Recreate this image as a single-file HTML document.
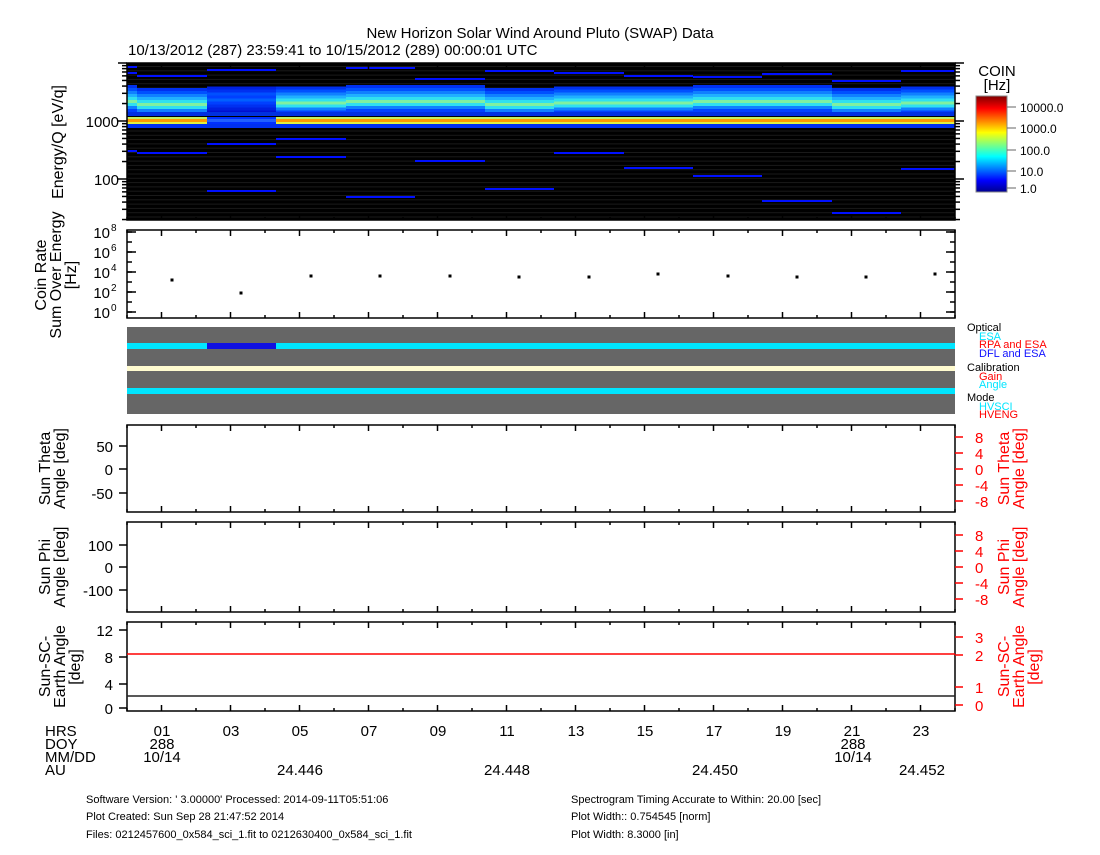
<!DOCTYPE html>
<html><head><meta charset="utf-8"><style>
body{margin:0;background:#fff;width:1100px;height:850px;overflow:hidden}
svg{font-family:"Liberation Sans",sans-serif}
</style></head><body>
<svg id="s" width="1100" height="850" xmlns="http://www.w3.org/2000/svg">
<rect width="1100" height="850" fill="#fff"/>
<text x="540" y="38" font-size="15" text-anchor="middle">New Horizon Solar Wind Around Pluto (SWAP) Data</text>
<text x="128" y="55" font-size="15">10/13/2012 (287) 23:59:41 to 10/15/2012 (289) 00:00:01 UTC</text>
<g id="spec"></g>
<g id="axes" stroke="#000" fill="none" stroke-width="1.5"></g>
<g id="txt" font-size="15"></g>
</svg>
<script>
const S=document.getElementById('spec'),A=document.getElementById('axes'),T=document.getElementById('txt');
const ns='http://www.w3.org/2000/svg';
function el(p,t,a,txt){const e=document.createElementNS(ns,t);for(const k in a)e.setAttribute(k,a[k]);if(txt!==undefined)e.textContent=txt;p.appendChild(e);return e;}
const L=127,R=955,W=R-L;
el(S,'rect',{x:L,y:63,width:W,height:157,fill:'#000'});
for(let y=66;y<220;y+=4.3)el(S,'rect',{x:L,y:y,width:W,height:1,fill:'#1a1a1a'});
const cols=[127,137,207,276,346,415,485,554,624,693,762,832,901,955];
const bandCol=['#0030f0','#0050ff','#1080ff','#20b0ff','#30e0f0','#80f0a0','#30e0f0','#1080ff','#0040ff'];
for(let i=0;i<cols.length-1;i++){
 const x=cols[i],w=cols[i+1]-x;const v=(i*37)%5;
 const top=85+(v%3)*1.5;
 for(let k=0;k<9;k++){const h=3;el(S,'rect',{x:x,y:top+k*h,width:w,height:h,fill:(i==2?['#0020e0','#0030f0','#0050ff','#0040ff','#0060ff','#0040ff','#0030f0','#0020e0','#0010d0'][k]:bandCol[k])});}
 el(S,'rect',{x:x,y:112,width:w,height:4,fill:'#0030e0'});
 const oc=i==2?['#0030ff','#2060ff','#0030ff']:['#c0f060','#ff9a00','#e0f040'];
 el(S,'rect',{x:x,y:117,width:w,height:2,fill:oc[0]});
 el(S,'rect',{x:x,y:119,width:w,height:3,fill:oc[1]});
 el(S,'rect',{x:x,y:122,width:w,height:2,fill:oc[2]});
 el(S,'rect',{x:x,y:124,width:w,height:4,fill:'#0030f0'});
 const lines=[[66,72,150],[75,152],[69,143,190],[138,156],[67,196],[78,160],[70,188],[72,152],[75,167],[76,175],[73,200],[80,212],[70,168]][i];
 lines.forEach(y=>el(S,'rect',{x:x,y:y,width:w,height:2,fill:'#0010ff'}));
}
el(S,'rect',{x:L,y:63,width:W,height:157,fill:'none',stroke:'#000','stroke-width':1.5});
function hticks(y0,y1){for(let h=0;h<=24;h++){const x=L+34.5*h; if(x>R)break;const len=(h%2==1)?6:3;el(A,'line',{x1:x,y1:y0,x2:x,y2:y0+len});el(A,'line',{x1:x,y1:y1,x2:x,y2:y1-len});}}
for(let d=1;d<=4;d++)for(let m=1;m<10;m++){const v=Math.pow(10,d)*m;const y=121-58*(Math.log10(v)-3);if(y<63||y>220)continue;const len=m==1?9:5;el(A,'line',{x1:L,y1:y,x2:L-len,y2:y});el(A,'line',{x1:R,y1:y,x2:R+len,y2:y});}
hticks(63,220);
el(T,'text',{x:119,y:127,'text-anchor':'end'},'1000');
el(T,'text',{x:119,y:185,'text-anchor':'end'},'100');
el(T,'text',{x:0,y:0,transform:'translate(63,142) rotate(-90)','text-anchor':'middle','font-size':16},'Energy/Q [eV/q]');
const g=el(document.getElementById('s'),'defs',{});const lg=el(g,'linearGradient',{id:'cb',x1:0,y1:1,x2:0,y2:0});
[['0','#00008f'],['0.12','#0000ff'],['0.37','#00ffff'],['0.62','#ffff00'],['0.87','#ff0000'],['1','#800000']].forEach(s=>el(lg,'stop',{offset:s[0],'stop-color':s[1]}));
el(S,'rect',{x:976,y:96,width:31,height:96,fill:'url(#cb)',stroke:'#888'});
el(T,'text',{x:997,y:76,'text-anchor':'middle'},'COIN');
el(T,'text',{x:997,y:90,'text-anchor':'middle'},'[Hz]');
[['10000.0',107],['1000.0',128],['100.0',150],['10.0',171],['1.0',188]].forEach(a=>{el(T,'text',{x:1020,y:a[1]+5,'font-size':12},a[0]);el(A,'line',{x1:1007,y1:a[1],x2:1016,y2:a[1],'stroke-width':1,stroke:'#666'});});
el(A,'rect',{x:L,y:230,width:W,height:88});
[['8',232],['6',252],['4',272],['2',292],['0',312]].forEach(a=>{el(T,'text',{x:110,y:a[1]+6,'text-anchor':'end'},'10');el(T,'text',{x:111,y:a[1]-1,'font-size':10},a[0]);el(A,'line',{x1:L,y1:a[1],x2:L+9,y2:a[1]});el(A,'line',{x1:R,y1:a[1],x2:R-9,y2:a[1]});});
for(let y=232;y<=312;y+=10){el(A,'line',{x1:L,y1:y,x2:L+5,y2:y});el(A,'line',{x1:R,y1:y,x2:R-5,y2:y});}
hticks(230,318);
[[172,280],[241,293],[311,276],[380,276],[450,276],[519,277],[589,277],[658,274],[728,276],[797,277],[866,277],[935,274]].forEach(p=>el(S,'rect',{x:p[0]-1.5,y:p[1]-1.5,width:3,height:3,fill:'#000'}));
el(T,'text',{x:0,y:0,transform:'translate(46,275) rotate(-90)','text-anchor':'middle','font-size':16},'Coin Rate');
el(T,'text',{x:0,y:0,transform:'translate(61,275) rotate(-90)','text-anchor':'middle','font-size':16},'Sum Over Energy');
el(T,'text',{x:0,y:0,transform:'translate(76,275) rotate(-90)','text-anchor':'middle','font-size':16},'[Hz]');
el(S,'rect',{x:L,y:327,width:W,height:87,fill:'#666'});
el(S,'rect',{x:L,y:343,width:W,height:6,fill:'#00e5ff'});
el(S,'rect',{x:207,y:343,width:69,height:6,fill:'#1010e0'});
el(S,'rect',{x:L,y:366,width:W,height:5,fill:'#fffbd0'});
el(S,'rect',{x:L,y:388,width:W,height:6,fill:'#00e5ff'});
[['Optical',967,331,'#000'],['ESA',979,340,'#00e5ff'],['RPA and ESA',979,348,'#f00'],['DFL and ESA',979,357,'#1010ff'],['Calibration',967,371,'#000'],['Gain',979,380,'#f00'],['Angle',979,388,'#00e5ff'],['Mode',967,401,'#000'],['HVSCI',979,410,'#00e5ff'],['HVENG',979,418,'#f00']].forEach(a=>el(T,'text',{x:a[1],y:a[2],fill:a[3],'font-size':11},a[0]));
function panel(y0,y1,left,right,lab1,lab2,rl1,rl2){
 el(A,'rect',{x:L,y:y0,width:W,height:y1-y0});hticks(y0,y1);
 left.forEach(a=>{el(T,'text',{x:113,y:a[1]+6,'text-anchor':'end'},a[0]);el(A,'line',{x1:L,y1:a[1],x2:L-8,y2:a[1]});});
 right.forEach(a=>{el(T,'text',{x:975,y:a[1]+6,fill:'#f00'},a[0]);el(A,'line',{x1:R,y1:a[1],x2:R+8,y2:a[1],stroke:'#f00'});});
 const c=(y0+y1)/2;
 el(T,'text',{x:0,y:0,transform:`translate(50,${c}) rotate(-90)`,'text-anchor':'middle','font-size':16},lab1);
 el(T,'text',{x:0,y:0,transform:`translate(65,${c}) rotate(-90)`,'text-anchor':'middle','font-size':16},lab2);
 el(T,'text',{x:0,y:0,transform:`translate(1009,${c}) rotate(-90)`,'text-anchor':'middle','font-size':16,fill:'#f00'},rl1);
 el(T,'text',{x:0,y:0,transform:`translate(1024,${c}) rotate(-90)`,'text-anchor':'middle','font-size':16,fill:'#f00'},rl2);
}
panel(425,512,[['50',446],['0',469],['-50',493]],[['8',437],['4',453],['0',469],['-4',485],['-8',501]],'Sun Theta','Angle [deg]','Sun Theta','Angle [deg]');
panel(522,612,[['100',545],['0',567],['-100',590]],[['8',535],['4',551],['0',567],['-4',583],['-8',599]],'Sun Phi','Angle [deg]','Sun Phi','Angle [deg]');
panel(622,711,[['12',630],['8',657],['4',684],['0',708]],[['3',637],['2',655],['1',687],['0',705]],'Sun-SC-','Earth Angle','Sun-SC-','Earth Angle');
el(T,'text',{x:0,y:0,transform:'translate(80,667) rotate(-90)','text-anchor':'middle','font-size':16},'[deg]');
el(T,'text',{x:0,y:0,transform:'translate(1039,667) rotate(-90)','text-anchor':'middle','font-size':16,fill:'#f00'},'[deg]');
el(A,'line',{x1:L,y1:654,x2:R,y2:654,stroke:'#f00'});
el(A,'line',{x1:L,y1:696,x2:R,y2:696,stroke:'#222'});
['HRS','DOY','MM/DD','AU'].forEach((t,i)=>el(T,'text',{x:45,y:736+i*13},t));
['01','03','05','07','09','11','13','15','17','19','21','23'].forEach((t,i)=>el(T,'text',{x:162+69*i,y:736,'text-anchor':'middle'},t));
el(T,'text',{x:162,y:749,'text-anchor':'middle'},'288');el(T,'text',{x:162,y:762,'text-anchor':'middle'},'10/14');
el(T,'text',{x:853,y:749,'text-anchor':'middle'},'288');el(T,'text',{x:853,y:762,'text-anchor':'middle'},'10/14');
[['24.446',300],['24.448',507],['24.450',715],['24.452',922]].forEach(a=>el(T,'text',{x:a[1],y:775,'text-anchor':'middle'},a[0]));
[["Software Version:  ' 3.00000'  Processed: 2014-09-11T05:51:06",86,803],['Plot Created: Sun Sep 28 21:47:52 2014',86,820],['Files: 0212457600_0x584_sci_1.fit to 0212630400_0x584_sci_1.fit',86,838],['Spectrogram Timing Accurate to Within: 20.00 [sec]',571,803],['Plot Width:: 0.754545 [norm]',571,820],['Plot Width: 8.3000 [in]',571,838]].forEach(a=>el(T,'text',{x:a[1],y:a[2],'font-size':11},a[0]));
</script>
</body></html>
